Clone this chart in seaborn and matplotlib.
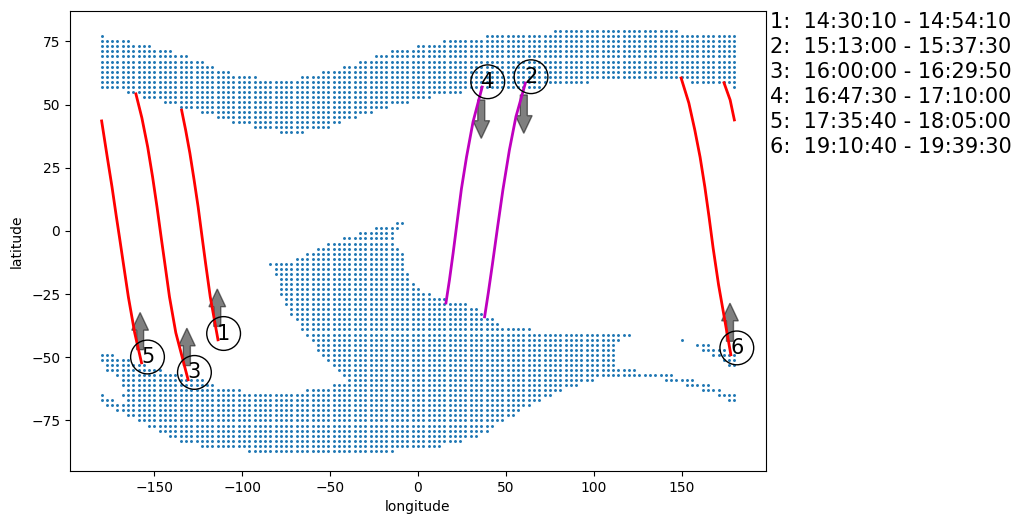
import matplotlib
matplotlib.use('Agg')
import matplotlib.pyplot as plt
import numpy as np
import pandas as pd
import seaborn as sns

# grid coverage: one latitude row and the longitude spans it covers (3 deg spacing)
row_lats = [79, 77, 75, 73, 71, 69, 67, 65, 63, 61, 59, 57, 55, 53, 51, 49, 47, 45, 43, 41, 39,
            3, 1, -1, -3, -5, -7, -9, -11, -13, -15, -17, -19, -21, -23, -25, -27, -29, -31, -33,
            -35, -37, -39, -41, -43, -45, -47, -49, -51, -53, -55, -57, -59, -61, -63, -65, -67,
            -69, -71, -73, -75, -77, -79, -81, -83, -85, -87]
row_spans = [
    [(78, 147)],
    [(-180, -180), (39, 180)],
    [(-180, -165), (15, 180)],
    [(-180, -153), (0, 180)],
    [(-180, -141), (-15, 180)],
    [(-180, -132), (-24, 180)],
    [(-180, -123), (-33, 180)],
    [(-180, -117), (-42, 180)],
    [(-180, -108), (-54, 180)],
    [(-180, -93), (-66, 180)],
    [(-180, 96), (156, 180)],
    [(-180, 69), (180, 180)],
    [(-165, 24)],
    [(-156, 6)],
    [(-144, -6)],
    [(-135, -18)],
    [(-123, -27)],
    [(-114, -36)],
    [(-105, -45)],
    [(-93, -51)],
    [(-78, -66)],
    [(-12, -9)],
    [(-24, -12)],
    [(-33, -15)],
    [(-42, -15)],
    [(-51, -15)],
    [(-57, -12)],
    [(-63, -9)],
    [(-69, -9)],
    [(-84, -9)],
    [(-81, -9)],
    [(-81, -6)],
    [(-78, -6)],
    [(-78, -3)],
    [(-78, 0)],
    [(-78, 6)],
    [(-75, 15)],
    [(-75, 27)],
    [(-72, 33)],
    [(-72, 36)],
    [(-69, 42)],
    [(-66, 45)],
    [(-66, 63)],
    [(-63, 120)],
    [(-60, 114), (150, 150)],
    [(-57, 111), (159, 165)],
    [(-57, 111), (162, 174)],
    [(-180, -174), (-54, 111), (168, 180)],
    [(-180, -165), (-51, 111), (174, 180)],
    [(-177, -156), (-48, 111), (177, 180)],
    [(-177, -147), (-45, 123)],
    [(-171, -135), (-42, 144)],
    [(-168, -123), (-39, 99), (141, 156)],
    [(-168, -117), (-48, 90), (153, 165)],
    [(-165, -102), (-63, 81), (162, 171)],
    [(-180, -180), (-168, 75), (171, 180)],
    [(-180, -174), (-165, 69), (177, 180)],
    [(-177, 63)],
    [(-171, 57)],
    [(-165, 54)],
    [(-159, 48)],
    [(-153, 42)],
    [(-147, 39)],
    [(-141, 33)],
    [(-135, 24)],
    [(-123, 12)],
    [(-96, -15)],
]

# swaths (lon, lat)
track1_lon = [-134.5, -132.2, -129.8, -127.4, -125.1, -122.7, -120.9, -118.2, -113.8]
track1_lat = [47.8, 39.9, 30.8, 20.2, 9.5, -3.2, -12.6, -26.1, -43.1]
track2_lon = [61.1, 55.7, 52.0, 48.3, 45.3, 42.3, 40.0, 37.9]
track2_lat = [58.5, 45.1, 32.0, 16.2, 1.6, -13.4, -24.5, -34.0]
track3_lon = [-160.5, -157.1, -153.8, -151.0, -148.5, -146.0, -144.1, -141.4, -137.8, -130.8]
track3_lat = [54.2, 44.7, 33.2, 21.3, 9.5, -3.2, -12.6, -26.1, -40.3, -58.9]
track4_lon = [36.5, 31.3, 27.6, 24.7, 22.2, 20.0, 17.9, 15.9]
track4_lat = [56.9, 43.1, 29.2, 16.6, 3.2, -8.7, -19.4, -28.5]
track5_lon = [-180.0, -176.8, -174.1, -171.6, -169.7, -167.7, -164.8, -161.2, -157.3]
track5_lat = [43.5, 29.2, 17.4, 5.5, -3.2, -12.6, -26.1, -40.3, -52.2]
track6a_lon = [149.7, 154.1, 157.5, 160.5, 163.2, 165.6, 167.9, 171.0, 178.0]
track6a_lat = [60.5, 50.6, 39.9, 29.2, 17.4, 5.5, -6.7, -21.3, -49.0]
track6b_lon = [174.1, 177.6, 180.0]
track6b_lat = [58.6, 51.8, 43.9]

# labels with their arrows
label_names = ['1', '2', '3', '4', '5', '6']
label_lon = [-110.6, 64.3, -127.2, 39.7, -153.9, 181.4]
label_lat = [-40.6, 61.0, -56.0, 59.0, -49.9, -46.3]
arrow_lon = [-114.2, 60.2, -131.5, 36.0, -158.1, 177.5]
arrow_start = [-37.8, 53.8, -53.3, 51.8, -47.0, -43.7]
arrow_end = [-23.0, 38.6, -38.5, 36.6, -32.3, -28.6]

time_ranges = ['14:30:10 - 14:54:10', '15:13:00 - 15:37:30', '16:00:00 - 16:29:50',
               '16:47:30 - 17:10:00', '17:35:40 - 18:05:00', '19:10:40 - 19:39:30']

grid = []
for lat, spans in zip(row_lats, row_spans):
    for start, end in spans:
        for lon in np.arange(start, end + 1, 3):
            grid.append((lon, lat))
grid = pd.DataFrame(grid, columns=['longitude', 'latitude'])

fig = plt.figure(figsize=(10.2, 5.25), dpi=100)
ax = fig.add_axes([70 / 1020, 1 - 471 / 525, 696 / 1020, 460 / 525])

sns.scatterplot(data=grid, x='longitude', y='latitude', color='C0', s=4.5, linewidth=0, ax=ax)

for xs, ys, col in [(track1_lon, track1_lat, 'r'), (track2_lon, track2_lat, 'm'),
                    (track3_lon, track3_lat, 'r'), (track4_lon, track4_lat, 'm'),
                    (track5_lon, track5_lat, 'r'), (track6a_lon, track6a_lat, 'r'),
                    (track6b_lon, track6b_lat, 'r')]:
    sns.lineplot(x=xs, y=ys, sort=False, estimator=None, color=col, lw=2, ax=ax)

for x, y0, y1 in zip(arrow_lon, arrow_start, arrow_end):
    ax.arrow(x, y0, 0, y1 - y0, width=4, head_width=9.5, head_length=7,
             length_includes_head=True, facecolor='k', edgecolor='k', alpha=0.5)

for name, x, y in zip(label_names, label_lon, label_lat):
    ax.text(x, y, name, fontsize=15, ha='center', va='center',
            bbox=dict(boxstyle='circle,pad=0.33', fc='none', ec='k'))

ax.set_xlim(-198, 198)
ax.set_ylim(-95, 87)
ax.set_xlabel('longitude')
ax.set_ylabel('latitude', labelpad=5)

lines = ['%s:  %s' % (n, t) for n, t in zip(label_names, time_ranges)]
fig.text(770 / 1020, 1 - 12.5 / 525, '\n'.join(lines), fontsize=15, ha='left', va='top', linespacing=1.31)

fig.savefig('out.png', dpi=100)
